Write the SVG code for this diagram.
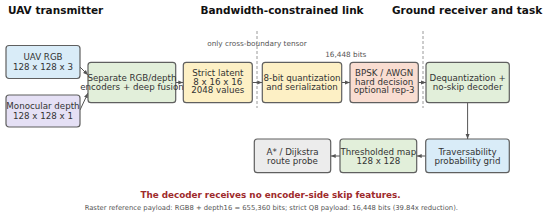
<svg xmlns="http://www.w3.org/2000/svg" width="550" height="217" viewBox="0 0 550 217">
<defs>
<style>
.t{font-family:"DejaVu Sans",Verdana,sans-serif;}
.h{font-size:10.5px;font-weight:bold;fill:#111;}
.b{font-size:8.7px;fill:#333;text-anchor:middle;}
.box{stroke:#5f5f5f;stroke-width:1.2;}
.blue{fill:#d9ecf8;}
.lav{fill:#e5e0f5;}
.green{fill:#e2efda;}
.yel{fill:#fdf0c5;}
.sal{fill:#f9ddd1;}
.gray{fill:#ececec;}
.con{stroke:#555;stroke-width:1;fill:none;marker-end:url(#ah);}
.dash{stroke:#9a9a9a;stroke-width:1;stroke-dasharray:3,2;}
.note{font-size:7.3px;fill:#555;text-anchor:middle;}
</style>
<marker id="ah" viewBox="0 0 10 10" refX="10" refY="5" markerWidth="5" markerHeight="5" markerUnits="userSpaceOnUse" orient="auto">
<path d="M0,1 L10,5 L0,9 z" fill="#555"/>
</marker>
</defs>
<rect width="550" height="217" fill="#fff"/>
<g id="titles" class="t">
<text class="h" x="8" y="14">UAV transmitter</text>
<text class="h" x="282" y="14" text-anchor="middle">Bandwidth-constrained link</text>
<text class="h" x="467" y="14" text-anchor="middle">Ground receiver and task</text>
</g>
<g id="boundaries">
<line class="dash" x1="257" y1="31" x2="257" y2="108"/>
<line class="dash" x1="423" y1="31" x2="423" y2="108"/>
</g>
<g id="connectors">
<line class="con" x1="80" y1="67" x2="88" y2="75"/>
<line class="con" x1="80" y1="110" x2="88" y2="93"/>
<line class="con" x1="175.7" y1="82.5" x2="183.3" y2="82.5"/>
<line class="con" x1="252.3" y1="82.5" x2="262.3" y2="82.5"/>
<line class="con" x1="341.7" y1="82.5" x2="350" y2="82.5"/>
<line class="con" x1="418.3" y1="82.5" x2="426" y2="82.5"/>
<line class="con" x1="467.6" y1="102.7" x2="467.6" y2="139"/>
<line class="con" x1="425.7" y1="156" x2="416.7" y2="156"/>
<line class="con" x1="340" y1="156" x2="330.7" y2="156"/>
</g>
<g id="uav-rgb" class="t">
<rect class="box blue" x="6" y="45.5" width="74" height="33" rx="3"/>
<text class="b" x="43" y="60.3">UAV RGB</text>
<text class="b" x="43" y="69.8">128 x 128 x 3</text>
</g>
<g id="mono-depth" class="t">
<rect class="box lav" x="6" y="95" width="74" height="32" rx="3"/>
<text class="b" x="43" y="109.3">Monocular depth</text>
<text class="b" x="43" y="118.8">128 x 128 x 1</text>
</g>
<g id="encoders" class="t">
<rect class="box green" x="88" y="62.3" width="87.7" height="40.4" rx="3"/>
<text class="b" x="132" y="80.8">Separate RGB/depth</text>
<text class="b" x="132" y="90.3">encoders + deep fusion</text>
</g>
<g id="latent" class="t">
<rect class="box yel" x="183.3" y="62.3" width="69" height="40.4" rx="3"/>
<text class="b" x="217.8" y="75.8">Strict latent</text>
<text class="b" x="217.8" y="84.6">8 x 16 x 16</text>
<text class="b" x="217.8" y="93.4">2048 values</text>
</g>
<g id="quant" class="t">
<rect class="box yel" x="262.3" y="62.3" width="79.4" height="40.4" rx="3"/>
<text class="b" x="302" y="80.8">8-bit quantization</text>
<text class="b" x="302" y="90.3">and serialization</text>
</g>
<g id="channel" class="t">
<rect class="box sal" x="350" y="62.3" width="68.3" height="40.4" rx="3"/>
<text class="b" x="384.2" y="75.8">BPSK / AWGN</text>
<text class="b" x="384.2" y="84.6">hard decision</text>
<text class="b" x="384.2" y="93.4">optional rep-3</text>
</g>
<g id="decoder" class="t">
<rect class="box green" x="426" y="62.3" width="83.3" height="40.4" rx="3"/>
<text class="b" x="467.6" y="80.8">Dequantization +</text>
<text class="b" x="467.6" y="90.3">no-skip decoder</text>
</g>
<g id="trav" class="t">
<rect class="box blue" x="425.7" y="139" width="83.6" height="33.7" rx="3"/>
<text class="b" x="467.5" y="154.6">Traversability</text>
<text class="b" x="467.5" y="164">probability grid</text>
</g>
<g id="thresh" class="t">
<rect class="box green" x="340" y="139" width="76.7" height="33.7" rx="3"/>
<text class="b" x="378.3" y="154.6">Thresholded map</text>
<text class="b" x="378.3" y="164">128 x 128</text>
</g>
<g id="route" class="t">
<rect class="box gray" x="254.3" y="139" width="76.4" height="33.7" rx="3"/>
<text class="b" x="292.5" y="154.6">A* / Dijkstra</text>
<text class="b" x="292.5" y="164">route probe</text>
</g>
<g id="notes" class="t">
<text class="note" x="257" y="46">only cross-boundary tensor</text>
<text class="note" x="345.8" y="57">16,448 bits</text>
<text x="270.5" y="197.5" text-anchor="middle" font-size="8.8" font-weight="bold" fill="#9e2a2b">The decoder receives no encoder-side skip features.</text>
<text x="271.3" y="210.2" text-anchor="middle" font-size="6.8" fill="#555">Raster reference payload: RGB8 + depth16 = 655,360 bits; strict Q8 payload: 16,448 bits (39.84x reduction).</text>
</g>
</svg>
